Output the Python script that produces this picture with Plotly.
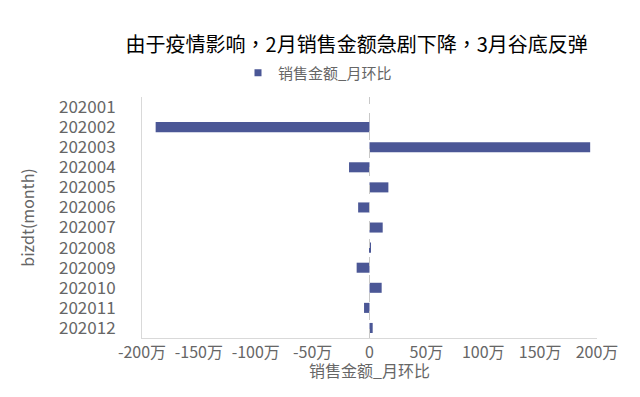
import plotly.graph_objects as go

months = ["202001", "202002", "202003", "202004", "202005", "202006",
          "202007", "202008", "202009", "202010", "202011", "202012"]
# 销售金额_月环比, in 万
mom_wan = [None, -188, 194, -18, 16.6, -10, 11.6, 1, -11.3, 10.7, -4.8, 2.8]

tick_vals = [-200, -150, -100, -50, 0, 50, 100, 150, 200]
tick_text = ["-200万", "-150万", "-100万", "-50万", "0", "50万", "100万", "150万", "200万"]

series_name = "销售金额_月环比"
title_text = "由于疫情影响，2月销售金额急剧下降，3月谷底反弹"

FONT = "Noto Sans CJK SC"
TFONT = "Noto Sans CJK TC"
BAR = "#4b5796"
GRAY = "#666666"

# page body has an 8px default margin; compensate so the picture lines up
OFF = 8
L, R, T, B = 142 - OFF, 43 + OFF, 97 - OFF, 59 + OFF
PW = 640 - L - R
PH = 397 - T - B

fig = go.Figure()
fig.add_trace(go.Bar(
    y=months, x=mom_wan, orientation="h", name=series_name,
    marker=dict(color=BAR, line=dict(width=0)), width=0.5, showlegend=False,
))
# legend proxy with a small square marker
fig.add_trace(go.Scatter(
    x=[None], y=[None], mode="markers", name=series_name,
    marker=dict(symbol="square", size=7, color=BAR), showlegend=True,
))

fig.add_shape(type="line", xref="x", yref="paper", x0=0, x1=0, y0=0, y1=1,
              line=dict(color="#c8c8c8", width=1, dash="dash"))

# x-axis title as annotation for exact placement
fig.add_annotation(text=series_name, xref="paper", yref="paper", x=0.5, y=0,
                   xanchor="center", yanchor="middle", yshift=-(370 - 338),
                   showarrow=False, font=dict(family=FONT, size=16, color=GRAY))

fig.update_layout(
    width=640, height=397,
    margin=dict(l=L, r=R, t=T, b=B, autoexpand=False),
    paper_bgcolor="white", plot_bgcolor="white",
    font=dict(family=FONT, color=GRAY, size=16),
    title=dict(text=title_text, x=(356.7 - OFF) / 640, xanchor="center", xref="container",
               y=1 - (45 - OFF) / 397, yanchor="middle", yref="container",
               font=dict(family=TFONT, size=20, color="#000000")),
    legend=dict(orientation="h", x=(238 - OFF - L) / PW, xanchor="left",
                y=(397 - B - (73 - OFF)) / PH, yanchor="middle",
                font=dict(family=FONT, size=15, color=GRAY),
                bgcolor="rgba(0,0,0,0)"),
    bargap=0.5,
)

fig.update_xaxes(
    range=[-200, 200], tickvals=tick_vals, ticktext=tick_text,
    showgrid=False, zeroline=False, showline=True, linecolor="#d9d9d9", linewidth=1,
    ticks="", tickfont=dict(family=FONT, size=16, color=GRAY),
    automargin=False, fixedrange=True,
)
fig.update_yaxes(
    autorange="reversed", type="category",
    showgrid=False, zeroline=False, showline=True, linecolor="#d9d9d9", linewidth=1,
    ticks="", ticklabelstandoff=22, tickfont=dict(family=FONT, size=17, color=GRAY),
    title=dict(text="bizdt(month)", font=dict(family=FONT, size=16, color=GRAY), standoff=20),
    automargin=False, fixedrange=True,
)

fig.write_html("out.html")
